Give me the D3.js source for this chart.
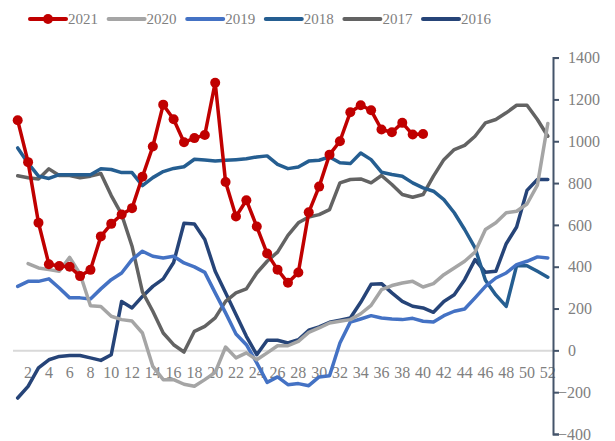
<!DOCTYPE html>
<html>
<head>
<meta charset="utf-8">
<script src="https://cdn.jsdelivr.net/npm/d3@7"></script>
<style>
  html, body { margin: 0; padding: 0; background: #fff; }
  svg { display: block; }
  text { font-family: "Liberation Serif", "DejaVu Serif", serif; fill: #808080; }
</style>
</head>
<body>
<svg id="chart" width="615" height="441"></svg>
<script>
const weeks = d3.range(1, 53);
const xTickLabels = d3.range(2, 53, 2);
const yTicks = [-400, -200, 0, 200, 400, 600, 800, 1000, 1200, 1400];
const seriesNames = ["2021", "2020", "2019", "2018", "2017", "2016"];

const s2021 = [1100, 900, 610, 412, 403, 400, 355, 385, 545, 605, 650, 680, 830, 975, 1175, 1105, 995, 1015, 1030, 1280,
  805, 640, 718, 592, 463, 386, 323, 372, 660, 783, 936, 1000, 1139, 1172, 1148, 1056, 1043, 1088, 1032, 1035];
const s2020 = [null, 415, 394, 386, 378, 445, 365, 213, 210, 163, 147, 140, 83, -77, -140, -140, -162, -172, -140, -105,
  16, -36, -12, -45, -12, 22, 22, 43, 86, 107, 131, 139, 147, 175, 215, 290, 310, 322, 330, 303,
  319, 362, 394, 426, 470, 578, 610, 658, 665, 700, 790, 1085];
const s2019 = [306, 330, 330, 342, 298, 251, 251, 246, 294, 338, 370, 434, 474, 450, 442, 450, 418, 399, 373, 275,
  179, 78, 27, -60, -153, -127, -164, -159, -169, -127, -121, 35, 135, 150, 166, 155, 150, 147, 153, 139,
  136, 166, 187, 198, 251, 306, 346, 370, 410, 426, 447, 442];
const s2018 = [968, 895, 833, 822, 840, 840, 840, 840, 868, 865, 850, 850, 788, 826, 855, 870, 878, 914, 910, 905,
  909, 912, 916, 925, 930, 889, 869, 877, 905, 909, 925, 897, 893, 944, 912, 852, 841, 833, 801, 777,
  761, 721, 658, 578, 490, 335, 265, 210, 405, 405, 378, 350];
const s2017 = [835, 825, 820, 868, 836, 836, 825, 833, 846, 740, 650, 498, 280, 187, 83, 27, -8, 91, 115, 155,
  234, 275, 294, 370, 426, 470, 550, 610, 638, 649, 673, 801, 817, 820, 801, 836, 793, 745, 732, 745,
  833, 912, 960, 980, 1024, 1088, 1104, 1136, 1172, 1172, 1104, 1024];
const s2016 = [-228, -172, -84, -45, -29, -25, -25, -36, -48, -21, 234, 203, 258, 306, 342, 420, 608, 604, 530, 378,
  275, 171, 67, -21, 48, 48, 35, 51, 96, 112, 134, 144, 155, 230, 316, 319, 275, 234, 211, 203,
  182, 234, 266, 338, 434, 373, 378, 510, 590, 765, 817, 817];

const colors = {"2021": "#C00000", "2020": "#A5A5A5", "2019": "#4472C4", "2018": "#255E91", "2017": "#636363", "2016": "#264478"};
const seriesData = {"2021": s2021, "2020": s2020, "2019": s2019, "2018": s2018, "2017": s2017, "2016": s2016};

const svg = d3.select("#chart");
const x = d3.scaleBand().domain(weeks).range([12.5, 553]);
const y = d3.scaleLinear().domain([-400, 1400]).range([434, 57.6]);
const cx = w => x(w) + x.bandwidth() / 2;

// zero line + x labels
const xAxis = d3.axisBottom(x).tickValues(xTickLabels).tickSize(0).tickPadding(16);
const gx = svg.append("g").attr("transform", `translate(0,${y(0)})`).call(xAxis);
gx.select(".domain").attr("stroke", "#D9D9D9").attr("stroke-width", 2);
gx.selectAll("text").style("font-size", "16px").attr("fill", "#808080")
  .style("font-family", "'Liberation Serif', serif");

// right axis
const yAxis = d3.axisRight(y).tickValues(yTicks).tickSize(6).tickPadding(9).tickFormat(d3.format("d"));
const gy = svg.append("g").attr("transform", `translate(553,0)`).call(yAxis);
gy.select(".domain").attr("stroke", "#44546A").attr("stroke-width", 2);
gy.selectAll(".tick line").attr("stroke", "#44546A").attr("stroke-width", 2);
gy.selectAll("text").style("font-size", "16px").attr("fill", "#808080")
  .style("font-family", "'Liberation Serif', serif")
  .attr("x", d => d < 0 ? 5 : 15);

// lines (draw order: older first so 2021 on top)
const drawOrder = ["2016", "2017", "2018", "2019", "2020", "2021"];
const lineGen = d3.line().defined(d => d.v !== null).x(d => cx(d.w)).y(d => y(d.v));
drawOrder.forEach(name => {
  const pts = seriesData[name].map((v, i) => ({w: weeks[i], v: v}));
  svg.append("path").datum(pts)
    .attr("fill", "none").attr("stroke", colors[name]).attr("stroke-width", 3.5)
    .attr("stroke-linejoin", "round").attr("stroke-linecap", "round")
    .attr("d", lineGen);
  if (name === "2021") {
    svg.append("g").selectAll("circle").data(pts.filter(d => d.v !== null)).join("circle")
      .attr("cx", d => cx(d.w)).attr("cy", d => y(d.v)).attr("r", 5)
      .attr("fill", colors[name]);
  }
});

// legend
const legend = svg.append("g");
seriesNames.forEach((name, i) => {
  const x0 = 30 + i * 78.6;
  const g = legend.append("g").attr("transform", `translate(${x0},19)`);
  g.append("line").attr("x1", 0).attr("x2", 36).attr("y1", 0).attr("y2", 0)
    .attr("stroke", colors[name]).attr("stroke-width", 4).attr("stroke-linecap", "round");
  if (name === "2021") g.append("circle").attr("cx", 18).attr("cy", 0).attr("r", 5).attr("fill", colors[name]);
  g.append("text").attr("x", 38).attr("y", 0).attr("dy", "0.35em")
    .style("font-size", "15px").text(name);
});
</script>
</body>
</html>
